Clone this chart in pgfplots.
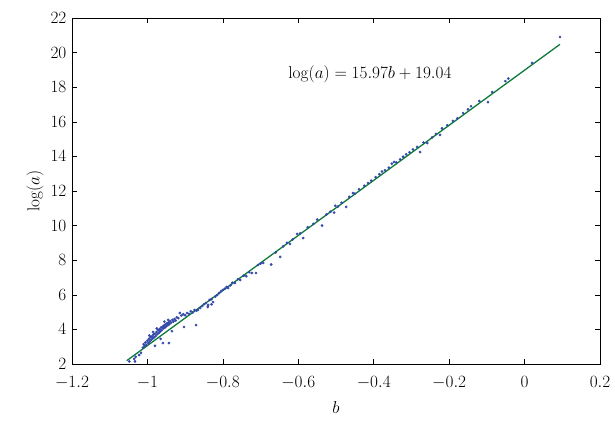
\documentclass[border=0pt]{standalone}
\usepackage{pgfplots}
\pgfplotsset{compat=1.18}
\definecolor{ptblue}{RGB}{50,72,170}
\definecolor{lngreen}{RGB}{12,122,56}
\pgfplotstableread{
x y
-1.048 2.15
-1.035 2.30
-1.033 2.15
-1.031 2.42
-1.022 2.52
-1.017 2.64
-1.012 2.95
-1.010 3.15
-1.008 3.05
-1.005 3.25
-1.003 3.10
-1.000 3.35
-0.998 3.20
-0.996 3.45
-0.995 3.65
-0.994 3.30
-0.992 3.55
-0.990 3.40
-0.988 3.60
-0.986 3.48
-0.985 3.85
-0.984 3.70
-0.982 3.55
-0.980 3.75
-0.980 3.05
-0.978 3.62
-0.976 3.85
-0.975 4.05
-0.974 3.72
-0.972 3.95
-0.970 3.80
-0.968 4.00
-0.966 3.88
-0.965 3.45
-0.964 4.10
-0.962 3.95
-0.960 4.15
-0.959 3.21
-0.958 4.05
-0.956 4.22
-0.955 4.45
-0.954 4.10
-0.952 4.30
-0.950 4.18
-0.948 4.35
-0.946 4.25
-0.945 4.55
-0.944 4.40
-0.943 3.21
-0.942 4.30
-0.940 4.48
-0.937 4.38
-0.935 3.90
-0.934 4.55
-0.931 4.45
-0.928 4.60
-0.925 4.52
-0.922 4.70
-0.918 4.65
-0.914 4.95
-0.910 4.80
-0.905 4.88
-0.903 4.14
-0.900 4.82
-0.895 4.95
-0.890 4.90
-0.885 5.05
-0.880 4.98
-0.875 5.12
-0.871 4.25
-0.870 5.08
-0.866 5.12
-0.860 5.24
-0.855 5.35
-0.850 5.45
-0.845 5.52
-0.840 5.30
-0.839 5.41
-0.835 5.70
-0.830 5.75
-0.830 5.45
-0.826 5.58
-0.820 5.90
-0.815 5.99
-0.810 6.10
-0.805 6.20
-0.800 6.28
-0.795 6.35
-0.790 6.45
-0.786 6.39
-0.780 6.55
-0.775 6.70
-0.768 6.68
-0.760 6.90
-0.754 6.86
-0.745 7.10
-0.738 7.08
-0.730 7.30
-0.723 7.26
-0.712 7.26
-0.707 7.72
-0.700 7.80
-0.693 7.84
-0.672 7.75
-0.660 8.45
-0.648 8.19
-0.640 8.80
-0.630 9.00
-0.622 8.94
-0.615 9.20
-0.603 9.52
-0.595 9.55
-0.587 9.28
-0.575 9.90
-0.560 10.10
-0.550 10.35
-0.537 10.00
-0.525 10.65
-0.515 10.80
-0.505 10.75
-0.502 11.15
-0.495 11.10
-0.485 11.32
-0.473 11.08
-0.465 11.66
-0.455 11.88
-0.450 11.85
-0.439 12.10
-0.425 12.30
-0.415 12.46
-0.407 12.60
-0.395 12.80
-0.385 12.97
-0.378 13.13
-0.370 13.20
-0.360 13.35
-0.352 13.58
-0.346 13.68
-0.340 13.65
-0.330 13.83
-0.322 13.98
-0.314 14.12
-0.305 14.24
-0.296 14.40
-0.285 14.55
-0.277 14.25
-0.268 14.80
-0.258 14.77
-0.245 15.10
-0.235 15.30
-0.224 15.24
-0.219 15.62
-0.205 15.80
-0.190 16.05
-0.178 16.20
-0.163 16.50
-0.150 16.72
-0.142 16.90
-0.120 17.20
-0.097 17.14
-0.086 17.72
-0.051 18.35
-0.043 18.50
0.020 19.40
0.094 20.90
}\pts
\begin{document}
\fontsize{17}{20}\selectfont
\begin{tikzpicture}
\begin{axis}[
  name=ax,
  width=528bp, height=346bp, scale only axis,
  xmin=-1.2, xmax=0.2, ymin=2, ymax=22,
  xtick={-1.2,-1,-0.8,-0.6,-0.4,-0.2,0,0.2},
  ytick={2,4,6,8,10,12,14,16,18,20,22},
  tick style={black, line width=0.5bp},
  major tick length=5bp,
  axis line style={black, line width=0.6bp},
  tick label style={font=\fontsize{17}{20}\selectfont, inner sep=1bp},
  xticklabel style={yshift=-11bp},
  yticklabel style={xshift=-4.5bp},
  label style={font=\fontsize{17}{20}\selectfont},
  xlabel={$b$}, ylabel={$\log(a)$},
  xlabel style={yshift=-6bp},
  clip=false,
]
\addplot[only marks, mark=*, mark size=1.15bp, ptblue] table {\pts};
\addplot[lngreen, line width=1.3bp] coordinates {(-1.055,2.19) (0.094,20.48)};
\node[font=\fontsize{19}{23}\selectfont] at (axis cs:-0.41,18.75) {$\log(a) = 15.97b + 19.04$};
\end{axis}
\pgfresetboundingbox
\path ([shift={(-72bp,-59bp)}]ax.south west) rectangle ([shift={(15bp,18bp)}]ax.north east);
\end{tikzpicture}
\end{document}
